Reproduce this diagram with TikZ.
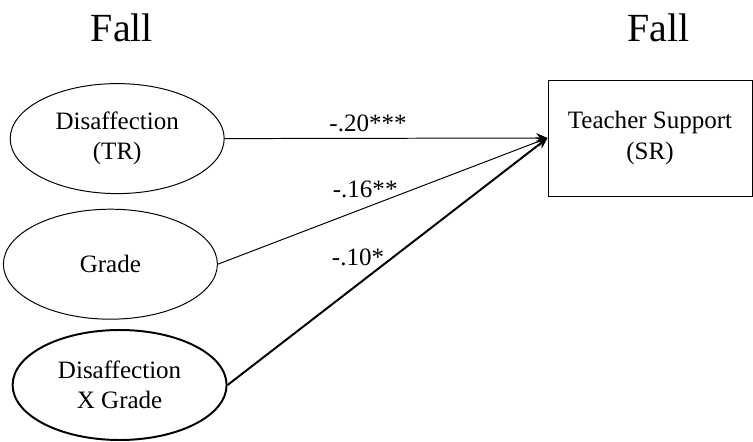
\documentclass[tikz,border=0pt]{standalone}
\usepackage{fontspec}
\setmainfont{Liberation Serif}
\usepackage{tikz}
\usetikzlibrary{shapes.geometric, arrows.meta}
\usepackage{tkz-euclide}

\tikzset{
  latent/.style={ellipse, draw, line width=0.7pt, minimum width=5.35cm,
    minimum height=2.75cm, inner sep=0pt, align=center,
    font=\fontsize{17.8}{21.5}\selectfont},
  outcome/.style={rectangle, draw, line width=0.7pt, minimum width=5.1cm,
    minimum height=2.9cm, align=center, font=\fontsize{17.8}{21.5}\selectfont},
  coef/.style={font=\fontsize{17.8}{21.5}\selectfont},
  wave/.style={font=\fontsize{28.4}{30}\selectfont},
  effect/.style={line width=0.7pt, -{Stealth[length=8pt,width=7pt]}}
}

\begin{document}
\begin{tikzpicture}
            \useasboundingbox (0,0) rectangle (18.825,11.025);
            \tkzDefPoint(2.93,7.56){DT}
            \tkzDefPoint(2.76,4.42){GR}
            \tkzDefPoint(2.99,1.40){DG}
            \tkzDefPoint(16.25,7.575){TS}
            \node[wave] (fallL) at (3.05,10.32) {Fall};
            \node[wave] (fallR) at (16.47,10.32) {Fall};
            \node[latent] (disaff) at (DT) {Disaffection\\(TR)};
            \node[latent] (grade) at (GR) {Grade};
            \node[latent, line width=1.4pt] (inter) at (DG) {Disaffection\\X Grade};
            \node[outcome] (support) at (TS) {Teacher Support\\(SR)};
            \draw[effect] (disaff.east) -- (support.west);
            \draw[effect] (grade.east) -- (support.west);
            \draw[effect, line width=1.4pt] (inter.east) -- (support.west);
            \node[coef] (bDT) at (9.2,7.94) {-.20***};
            \node[coef] (bGR) at (9.13,6.29) {-.16**};
            \node[coef] (bDG) at (8.95,4.58) {-.10*};
        \end{tikzpicture}
\end{document}
